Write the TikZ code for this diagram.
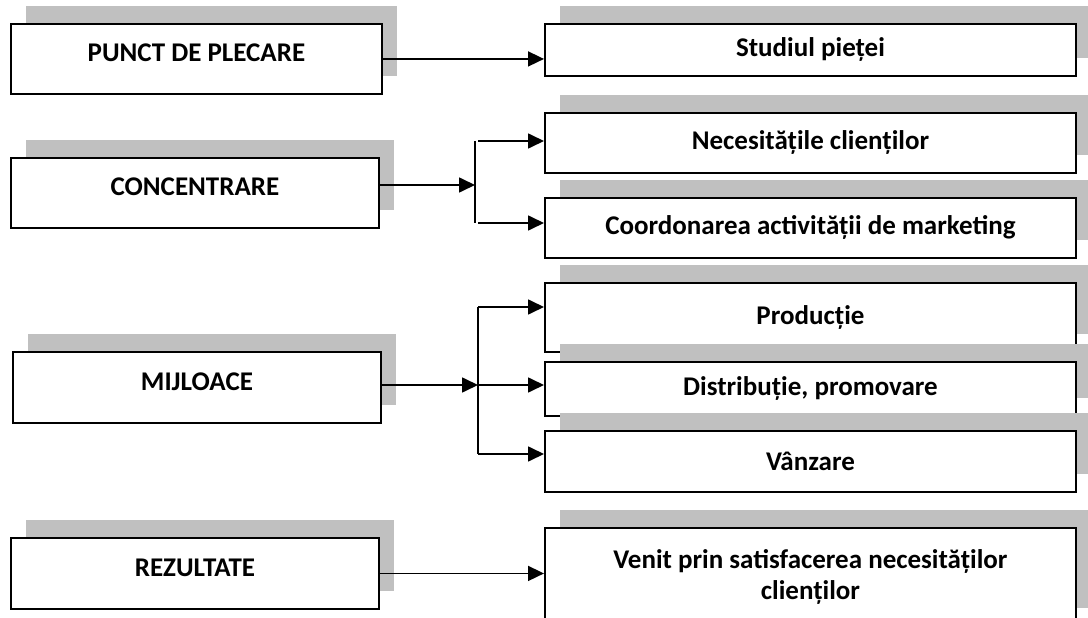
\documentclass[tikz,border=0pt]{standalone}
\usepackage{fontspec}
\setmainfont{Carlito}
\usetikzlibrary{arrows.meta}
\definecolor{shadowgray}{HTML}{C0C0C0}
\newcommand\shbox[7]{%
  \fill[shadowgray] (#3+16,#4-17) rectangle (#5+16,#6-17);
  \node[#1, minimum width=#5-#3, minimum height=#6-#4] (#2) at (#3,#4) {#7};}
\begin{document}
\begin{tikzpicture}[x=1pt,y=-1pt,
  box/.style={draw=black, line width=1.9pt, fill=white, anchor=north west,
    inner sep=0pt, font=\bfseries\fontsize{27}{31}\selectfont, align=center},
  lbox/.style={box, text depth=12pt},
  conn/.style={line width=1.7pt, -{Triangle[length=16pt,width=15pt]}},
  bar/.style={line width=1.7pt}
]
\useasboundingbox (0,0) rectangle (1088,618);
\clip (0,0) rectangle (1088,618);

% left column
\shbox{lbox}{punct}{10}{23}{381}{93}{PUNCT DE PLECARE}
\shbox{lbox}{conc}{10}{157}{378}{227}{CONCENTRARE}
\shbox{lbox}{mijl}{12}{351}{380}{422}{MIJLOACE}
\shbox{lbox}{rez}{10}{537}{378}{608}{REZULTATE}

% right column
\shbox{box}{studiul}{544}{23}{1075}{75}{Studiul pieței}
\shbox{box}{necesit}{544}{112}{1075}{172}{Necesitățile clienților}
\shbox{box}{coord}{544}{197}{1075}{257}{Coordonarea activității de marketing}
\shbox{box}{productie}{544}{282}{1075}{351}{Producție}
\shbox{box}{distrib}{544}{361}{1075}{415}{Distribuție, promovare}
\shbox{box}{vanzare}{544}{430}{1075}{491}{Vânzare}
\shbox{box}{venit}{544}{527}{1075}{625}{Venit prin satisfacerea necesităților\\clienților}

% connectors
\draw[conn] (punct.east) -- (punct.east -| studiul.west);

\coordinate (j1) at (475,185);
\coordinate (j1t) at (475,141);
\coordinate (j1b) at (475,223);
\draw[conn] (j1 -| conc.east) -- (j1);
\draw[bar] (j1t) -- (j1b);
\draw[conn, shorten <=3pt] (j1t) -- (j1t -| necesit.west);
\draw[conn, shorten <=3pt] (j1b) -- (j1b -| coord.west);

\coordinate (j2) at (478,385);
\coordinate (j2t) at (478,307);
\coordinate (j2b) at (478,454);
\draw[conn] (j2 -| mijl.east) -- (j2);
\draw[bar] (j2t) -- (j2b);
\draw[conn] (j2t) -- (j2t -| productie.west);
\draw[conn] (j2) -- (j2 -| distrib.west);
\draw[conn] (j2b) -- (j2b -| vanzare.west);

\draw[conn] (rez.east) -- (rez.east -| venit.west);
\end{tikzpicture}
\end{document}
